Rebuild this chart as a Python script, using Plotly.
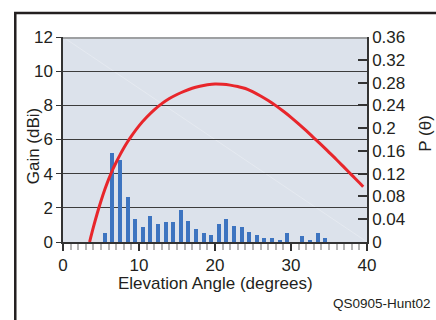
import plotly.graph_objects as go

# Data
bar_angles = [5.5, 6.5, 7.5, 8.5, 9.5, 10.5, 11.5, 12.5, 13.5, 14.5, 15.5, 16.5, 17.5, 18.5,
              19.5, 20.5, 21.5, 22.5, 23.5, 24.5, 25.5, 26.5, 27.5, 28.5, 29.5, 30.5, 31.5,
              32.5, 33.5, 34.5]
gain_dbi = [0.55, 5.22, 4.78, 2.61, 1.35, 0.88, 1.51, 1.04, 1.2, 1.16, 1.86, 1.25, 0.76, 0.53,
            0.43, 1.03, 1.34, 0.95, 0.88, 0.57, 0.43, 0.25, 0.25, 0.1, 0.53, 0.0, 0.35,
            0.08, 0.51, 0.25]

curve_angles = [3.5, 4, 4.5, 5, 5.5, 6, 6.5, 7, 7.5, 8, 8.5, 9, 10, 11, 12, 13, 14, 15, 16,
                17, 18, 19, 20, 21, 22, 23, 24, 25, 26, 27, 28, 29, 30, 31, 32, 33, 34, 35,
                36, 37, 38, 39, 39.5]
p_theta = [0, 0.026, 0.050, 0.072, 0.092, 0.110, 0.126, 0.140, 0.153, 0.165, 0.176, 0.186,
           0.204, 0.219, 0.232, 0.243, 0.252, 0.259, 0.265, 0.270, 0.2735, 0.276, 0.2775,
           0.277, 0.2755, 0.273, 0.2695, 0.2635, 0.2565, 0.2485, 0.2395, 0.2295, 0.219,
           0.2075, 0.1955, 0.183, 0.1705, 0.1575, 0.1445, 0.131, 0.1175, 0.104, 0.097]

x_ticks = [0, 10, 20, 30, 40]
FONT = "Arial, Liberation Sans, sans-serif"
TXT = "#231f20"

fig = go.Figure()
fig.add_trace(go.Bar(x=bar_angles, y=gain_dbi, width=0.55, marker=dict(color="#3d74c0", line=dict(width=0)),
                     yaxis="y", showlegend=False))
fig.add_trace(go.Scatter(x=curve_angles, y=p_theta, mode="lines", yaxis="y2",
                         line=dict(color="#e8262b", width=3, shape="spline", smoothing=1.0),
                         showlegend=False))

fig.update_layout(
    width=436, height=320,
    margin=dict(l=63, r=69, t=37, b=78),
    paper_bgcolor="white",
    plot_bgcolor="#dce2eb",
    font=dict(family=FONT, size=17, color=TXT),
    bargap=0,
    xaxis=dict(range=[0, 40], tickvals=x_ticks, showgrid=False, zeroline=False,
               showline=True, linecolor="#333", linewidth=1.5,
               ticks="outside", ticklen=7, tickcolor="#333", tickwidth=1.5,
               minor=dict(dtick=1, ticks="outside", ticklen=6, tickcolor="#b5b5b5", tickwidth=1.5),
               tickfont=dict(size=17, color=TXT)),
    yaxis=dict(range=[0, 12], dtick=2, showgrid=True, gridcolor="#3c3c3c", gridwidth=1.3,
               zeroline=False, showline=True, linecolor="#333", linewidth=1.5,
               ticks="outside", ticklen=5, tickcolor="#333", tickwidth=1.2,
               tickfont=dict(size=17, color=TXT)),
    yaxis2=dict(range=[0, 0.36], dtick=0.04, tick0=0, overlaying="y", side="right",
                showgrid=False, zeroline=False, showline=True, linecolor="#333", linewidth=1.5,
                ticks="inside", ticklen=9, tickcolor="#333", tickwidth=1.5,
                tickfont=dict(size=17, color=TXT)),
    shapes=[
        dict(type="line", xref="paper", yref="paper", x0=0, x1=1, y0=0.995, y1=0.995,
             line=dict(color="#8a8a8a", width=1.5)),
        dict(type="line", xref="paper", yref="paper", x0=0, x1=1, y0=1, y1=0,
             line=dict(color="rgba(255,255,255,0.25)", width=1), layer="below"),
        dict(type="rect", xref="paper", yref="paper", x0=-0.157, x1=1.25, y0=1.117, y1=-0.45,
             line=dict(color="#231f20", width=2.5)),
    ],
    annotations=[
        dict(text="Gain (dBi)", xref="paper", yref="paper", x=-0.098, y=0.468, textangle=-90,
             showarrow=False, xanchor="center", yanchor="middle", font=dict(size=17, color=TXT)),
        dict(text="P (θ)", xref="paper", yref="paper", x=1.192, y=0.53, textangle=-90,
             showarrow=False, xanchor="center", yanchor="middle", font=dict(size=17, color=TXT)),
        dict(text="Elevation Angle (degrees)", xref="paper", yref="paper", x=0.5, y=-0.201,
             showarrow=False, xanchor="center", yanchor="middle", font=dict(size=17, color=TXT)),
        dict(text="QS0905-Hunt02", xref="paper", yref="paper", x=1.218, y=-0.298,
             showarrow=False, xanchor="right", yanchor="middle", font=dict(size=13.5, color=TXT)),
    ],
)

fig.write_html("out.html", config={"displayModeBar": False},
               post_script="document.body.style.margin='0';document.body.style.overflow='hidden';")
